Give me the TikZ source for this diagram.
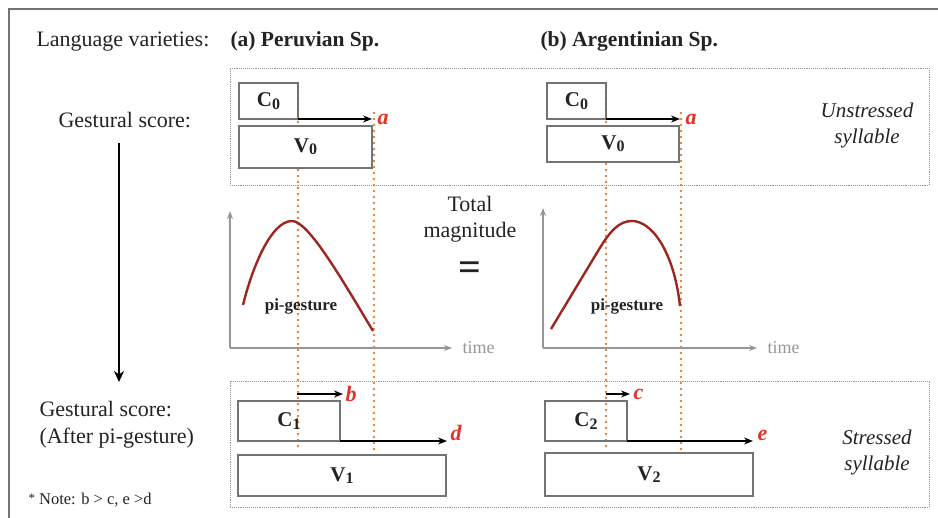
\documentclass[tikz,border=0pt]{standalone}
\usepackage{fontspec}
\setmainfont{Liberation Serif}
\usetikzlibrary{arrows.meta,positioning}
\definecolor{ink}{RGB}{35,35,35}
\definecolor{edge}{RGB}{115,115,115}
\definecolor{soft}{RGB}{150,150,150}
\definecolor{guide}{RGB}{228,128,48}
\definecolor{hump}{RGB}{158,38,32}
\definecolor{tagred}{RGB}{226,50,38}
\newcommand{\gest}[2]{#1\raisebox{-0.25ex}{\fontsize{16}{16}\selectfont #2}}
\tikzset{
  every picture/.style={color=ink, line width=1pt},
  txt/.style={font=\fontsize{22}{26}\selectfont, inner sep=0pt},
  hd/.style={font=\fontsize{21.5}{26}\selectfont\bfseries, inner sep=0pt},
  seg/.style={draw=edge, line width=1.2pt, anchor=north west, inner sep=0pt, outer sep=0pt, font=\fontsize{21}{24}\selectfont\bfseries},
  syl/.style={draw=soft, densely dotted, line width=0.9pt, anchor=north west, inner sep=0pt, outer sep=0pt},
  note/.style={font=\fontsize{21}{26}\selectfont\itshape, align=center, inner sep=0pt},
  tag/.style={font=\fontsize{22}{24}\selectfont\bfseries\itshape, text=tagred, inner sep=0pt},
  flow/.style={-{Stealth[length=9pt,width=7pt]}, line width=1.4pt, color=black},
  guideline/.style={color=guide, line width=2.6pt, line cap=round, dash pattern=on 0pt off 6pt},
  axis/.style={-{Stealth[length=8pt,width=6pt]}, color=soft, line width=1.2pt},
  hum/.style={color=hump, line width=2.4pt},
  lbl/.style={font=\fontsize{17}{20}\selectfont\bfseries, inner sep=0pt},
  axlbl/.style={font=\fontsize{18}{20}\selectfont, text=soft, inner sep=0pt},
}

\begin{document}
\begin{tikzpicture}[x=1pt, y=-1pt]
  \useasboundingbox (0,0) rectangle (938,518);
  \draw[edge, line width=1.3pt] (938,9) -- (9,9) -- (9,518);
  % headings and left column
  \node[txt, anchor=base west] (lang) at (36,47) {Language varieties:};
  \node[hd, anchor=base west] (peru) at (230,47) {(a) Peruvian Sp.};
  \node[hd, anchor=base west] (arg) at (540,47) {(b) Argentinian Sp.};
  \node[txt, anchor=base west] (gs0) at (58,128) {Gestural score:};
  \coordinate (down0) at (119,143);
  \coordinate (down1) at (119,382);
  \draw[flow, line width=2.5pt, -{Stealth[length=11pt,width=10pt]}] (down0) -- (down1);
  \node[txt, anchor=base west] (gs1) at (39,417) {Gestural score:};
  \node[txt, anchor=base west] (after) at (39,444) {(After pi-gesture)};
  \node[font=\fontsize{16.5}{18}\selectfont, anchor=base west, inner sep=0pt] (foot) at (28,505)
    {\raisebox{0.3ex}{\fontsize{13}{13}\selectfont *} Note: b > c, e >d};

  % syllable frames
  \node[syl, minimum width=699pt, minimum height=117pt] (unstr) at (230,68) {};
  \node[syl, minimum width=699pt, minimum height=126pt] (str) at (230,381) {};
  \node[note] (unlab) at (867,125) {Unstressed\\syllable};
  \node[note] (stlab) at (877,452) {Stressed\\syllable};

  % alignment guides
  \foreach \gx/\gy in {298/86, 374/113, 606/86, 681/113}
    \draw[guideline] (\gx,\gy) -- (\gx,451);

  % (a) Peruvian
  \node[seg, minimum width=59pt, minimum height=36pt] (c0a) at (239,83) {\gest{C}{0}};
  \node[seg, fill=white, minimum width=133pt, minimum height=42pt] (v0a) at (239,126) {\gest{V}{0}};
  \coordinate (aendA) at (372,119);
  \draw[flow] (c0a.south east) -- (aendA);
  \node[tag, right=5pt of aendA] {a};
  \node[seg, minimum width=102pt, minimum height=40pt] (c1) at (238,401) {\gest{C}{1}};
  \node[seg, minimum width=208pt, minimum height=41pt] (v1) at (238,455) {\gest{V}{1}};
  \coordinate (bstart) at (297,394);
  \coordinate (bend) at (343,394);
  \draw[flow] (bstart) -- (bend);
  \node[tag, right=2pt of bend] {b};
  \coordinate (dend) at (447,441);
  \draw[flow] (c1.south east) -- (dend);
  \node[tag, right=3pt of dend, anchor=south west] {d};

  % (b) Argentinian
  \node[seg, minimum width=59pt, minimum height=36pt] (c0b) at (547,83) {\gest{C}{0}};
  \node[seg, fill=white, minimum width=132pt, minimum height=36pt] (v0b) at (547,126) {\gest{V}{0}};
  \coordinate (aendB) at (680,119);
  \draw[flow] (c0b.south east) -- (aendB);
  \node[tag, right=5pt of aendB] {a};
  \node[seg, minimum width=82pt, minimum height=40pt] (c2) at (545,401) {\gest{C}{2}};
  \node[seg, minimum width=208pt, minimum height=43pt] (v2) at (545,453) {\gest{V}{2}};
  \coordinate (cstart) at (606,394);
  \coordinate (cend) at (630,394);
  \draw[flow] (cstart) -- (cend);
  \node[tag, right=3pt of cend] {c};
  \coordinate (eend) at (753,441);
  \draw[flow] (c2.south east) -- (eend);
  \node[tag, right=4pt of eend, anchor=south west] {e};

  % pi-gesture curves
  \coordinate (oA) at (230,348);
  \draw[axis] (oA) -- (230,211);
  \draw[axis] (oA) -- (452,348) coordinate (tA);
  \node[axlbl, right=10pt of tA] {time};
  \draw[hum] (243,305) .. controls (251,272) and (270,221) .. (292,221)
    .. controls (308,221) and (340,276) .. (373,331);
  \node[lbl] (piA) at (301,306) {pi-gesture};
  \coordinate (oB) at (543,348);
  \draw[axis] (oB) -- (543,208);
  \draw[axis] (oB) -- (757,348) coordinate (tB);
  \node[axlbl, right=10pt of tB] {time};
  \draw[hum] (551,329) -- (598,251) .. controls (610,231) and (619,221) .. (632,221)
    .. controls (652,221) and (674,252) .. (680,306);
  \node[lbl] (piB) at (627,306) {pi-gesture};

  % total magnitude
  \node[txt, anchor=base] (tot) at (470,212) {Total};
  \node[txt, anchor=base] (mag) at (470,238) {magnitude};
  \node[font=\fontsize{40}{40}\selectfont\bfseries, inner sep=0pt] (eq) at (470,271) {=};
\end{tikzpicture}
\end{document}
